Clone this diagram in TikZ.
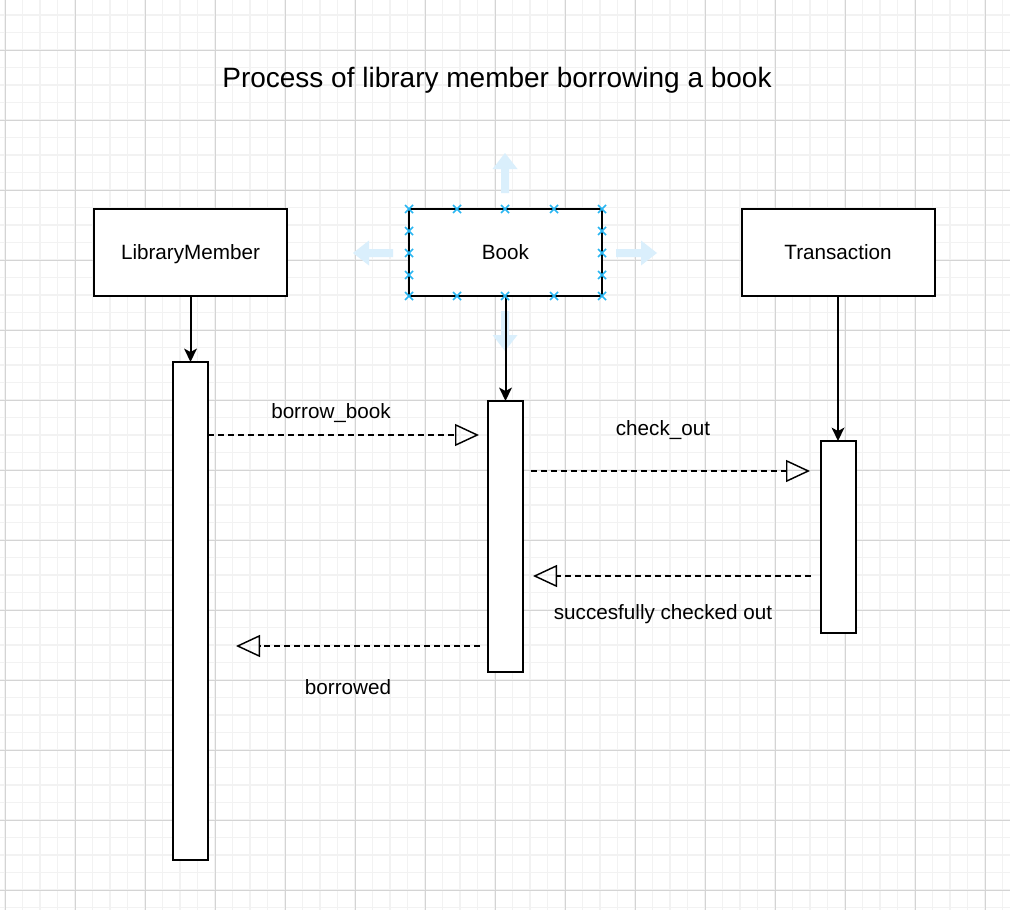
\documentclass[tikz,border=0pt]{standalone}
\usepackage{fontspec}
\setmainfont{Liberation Sans}
\usetikzlibrary{arrows.meta}
\definecolor{gridminor}{RGB}{242,242,242}
\definecolor{gridmajor}{RGB}{212,212,212}
\definecolor{selblue}{RGB}{41,182,242}
\definecolor{hintblue}{RGB}{218,239,252}
\tikzset{
  lbl/.style={font=\fontsize{15.5}{18}\selectfont, inner sep=0pt, text height=11.2pt, text depth=0pt},
  headbox/.style={draw=black, fill=white, line width=1.5pt, minimum width=144.75pt, minimum height=65.25pt, inner sep=0pt, outer sep=0pt, font=\fontsize{15.5}{18}\selectfont, text height=11.2pt, text depth=0pt},
  actbox/.style={draw=black, fill=white, line width=1.5pt, minimum width=26.25pt, inner sep=0pt, outer sep=0pt},
  lifeline/.style={line width=1.5pt, -{Stealth[length=10pt, width=9.5pt, inset=2.5pt]}},
  msg/.style={line width=1.1pt, dash pattern=on 4.5pt off 3pt, -{Triangle[open, length=18pt, width=16.5pt]}},
  selmark/.style={draw=selblue, line width=1.1pt},
  hint/.style={fill=hintblue, draw=none}
}
\begin{document}
\begin{tikzpicture}[x=0.75pt, y=-0.75pt]
\useasboundingbox (0,0) rectangle (1010,910);
\fill[white] (0,0) rectangle (1010,910);
% grid
\foreach \i in {0,...,57} {
  \draw[gridminor, line width=0.9pt] ({5+17.5*\i},0) -- ({5+17.5*\i},910);
}
\foreach \i in {0,...,52} {
  \draw[gridminor, line width=0.9pt] (0,{15+17.5*\i}) -- (1010,{15+17.5*\i});
}
\foreach \i in {0,...,14} {
  \draw[gridmajor, line width=0.75pt] ({5+70*\i},0) -- ({5+70*\i},910);
}
\foreach \i in {0,...,12} {
  \draw[gridmajor, line width=0.75pt] (0,{50+70*\i}) -- (1010,{50+70*\i});
}
% title
\node[font=\fontsize{21}{25}\selectfont, inner sep=0pt, text height=15pt, text depth=0pt] (title) at (497,77) {Process of library member borrowing a book};
% hint arrows around Book
\fill[hint] (505,153) -- (517.5,169) -- (509,169) -- (509,193) -- (501,193) -- (501,169) -- (492.5,169) -- cycle;
\fill[hint] (353,253) -- (369,240.5) -- (369,249) -- (393,249) -- (393,257) -- (369,257) -- (369,265.5) -- cycle;
\fill[hint] (657,253) -- (641,240.5) -- (641,249) -- (616,249) -- (616,257) -- (641,257) -- (641,265.5) -- cycle;
\fill[hint] (505,351) -- (517.5,335) -- (509,335) -- (509,311) -- (501,311) -- (501,335) -- (492.5,335) -- cycle;
% head boxes
\node[headbox] (lm) at (190.5,252.5) {LibraryMember};
\node[headbox] (book) at (505.5,252.5) {Book};
\node[headbox] (tr) at (838,252.5) {Transaction};
% activations
\node[actbox, minimum height=373.5pt] (lmact) at (190.5,611) {};
\node[actbox, minimum height=203.25pt] (bookact) at (505.5,536.5) {};
\node[actbox, minimum height=144pt] (tract) at (838,537) {};
% lifeline arrows
\draw[lifeline] (lm.south) -- (lmact.north);
\draw[lifeline] (book.south) -- (bookact.north);
\draw[lifeline] (tr.south) -- (tract.north);
% selection markers on Book
\foreach \px/\py in {409/209, 457/209, 505/209, 554/209, 602/209,
                     409/296, 457/296, 505/296, 554/296, 602/296,
                     409/231, 409/253, 409/275, 602/231, 602/253, 602/275} {
  \draw[selmark] (\px-4,\py-4) -- (\px+4,\py+4);
  \draw[selmark] (\px-4,\py+4) -- (\px+4,\py-4);
}
% messages
\coordinate (m1) at (479,435);
\coordinate (m2s) at (531,471);
\coordinate (m2e) at (810,471);
\coordinate (m3s) at (811,576);
\coordinate (m3e) at (533,576);
\coordinate (m4s) at (480,646);
\coordinate (m4e) at (236,646);
\draw[msg] (lmact.east |- m1) -- (m1);
\draw[msg] (m2s) -- (m2e);
\draw[msg] (m3s) -- (m3e);
\draw[msg] (m4s) -- (m4e);
% labels
\node[lbl] (l1) at (331,411) {borrow\_book};
\node[lbl] (l2) at (663,428) {check\_out};
\node[lbl] (l3) at (663,612) {succesfully checked out};
\node[lbl] (l4) at (348,687) {borrowed};
\end{tikzpicture}
\end{document}
